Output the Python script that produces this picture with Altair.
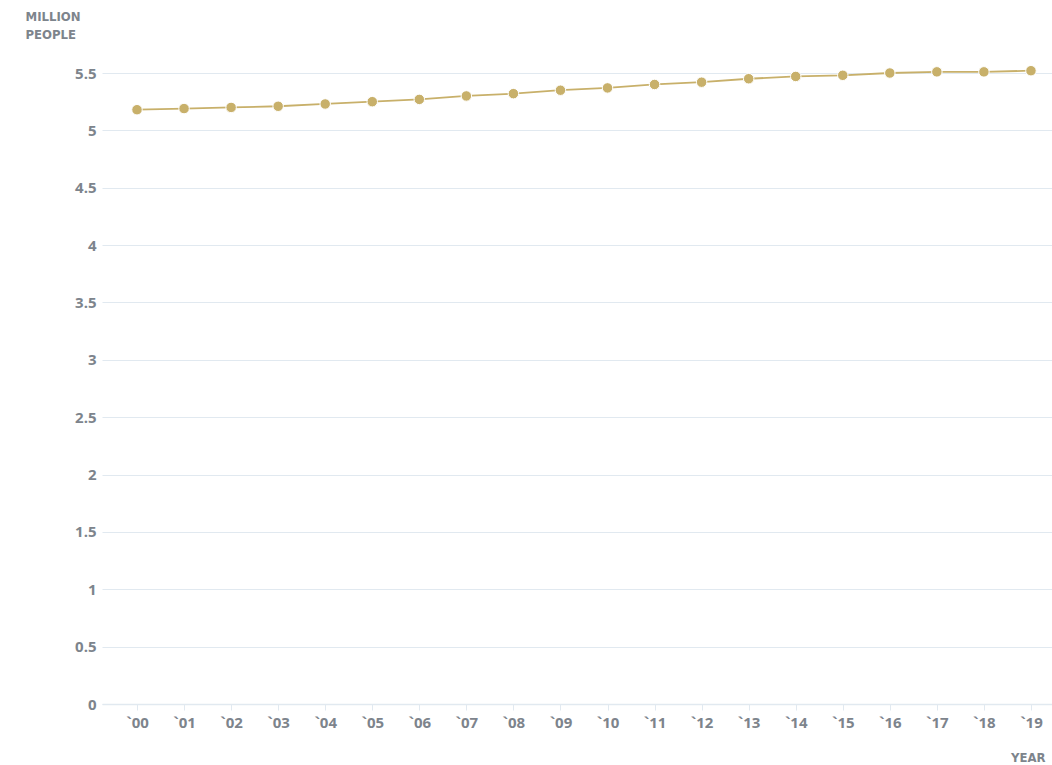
import altair as alt
import pandas as pd

years = [2000, 2001, 2002, 2003, 2004, 2005, 2006, 2007, 2008, 2009,
         2010, 2011, 2012, 2013, 2014, 2015, 2016, 2017, 2018, 2019]
population = [5.18, 5.19, 5.20, 5.21, 5.23, 5.25, 5.27, 5.30, 5.32, 5.35,
              5.37, 5.40, 5.42, 5.45, 5.47, 5.48, 5.50, 5.51, 5.51, 5.52]
y_ticks = [0, 0.5, 1, 1.5, 2, 2.5, 3, 3.5, 4, 4.5, 5, 5.5]

df = pd.DataFrame({"year": years, "pop": population})

GOLD = "#c8b06a"
GREY = "#7d848c"
GRID = "#e1e9f0"

x = alt.X("year:Q",
          scale=alt.Scale(domain=[1999.256, 2019.447], nice=False, zero=False),
          axis=alt.Axis(title="YEAR", values=years,
                        labelExpr="'`' + substring(toString(datum.value), 2)",
                        labelAngle=0, titleAngle=0, labelFlush=False, labelOverlap=False,
                        titleAlign="right", titleBaseline="bottom",
                        titleX=943, titleY=60, titleFont="DejaVu Sans Condensed",
                        titleFontSize=13, titleFontWeight="bold", titleColor=GREY,
                        labelFont="Open Sans", labelFontSize=15, labelFontWeight="bold",
                        labelColor=GREY, labelPadding=5, tickSize=6, tickColor=GRID,
                        domainColor=GRID, domainWidth=1.5, grid=False))
y = alt.Y("pop:Q", scale=alt.Scale(domain=[0, 5.5], nice=False, zero=True),
          axis=alt.Axis(title=["MILLION", "PEOPLE"], titleAngle=0, titleAlign="left",
                        titleBaseline="top", titleX=-77, titleY=-63, titleLineHeight=18,
                        titleFont="DejaVu Sans Condensed", titleFontSize=13,
                        titleFontWeight="bold", titleColor=GREY,
                        values=y_ticks,
                        labelExpr="replace(format(datum.value, '.1f'), '.0', '')",
                        labelFont="Open Sans", labelFontSize=15, labelFontWeight="bold",
                        labelColor=GREY, labelPadding=6, ticks=False, domain=False,
                        gridColor=GRID, gridWidth=1))

line = alt.Chart(df).mark_line(color=GOLD, strokeWidth=1.8, clip=False).encode(x=x, y=y)
pts = alt.Chart(df).mark_point(filled=True, color=GOLD, size=110, opacity=1,
                               stroke="white", strokeWidth=1, clip=False).encode(x=x, y=y)

chart = alt.layer(line, pts).properties(
    width=950, height=631,
    background="white",
    autosize=alt.AutoSizeParams(type="none"),
    padding={"left": 102, "top": 73, "right": 0, "bottom": 61},
).configure_view(stroke=None, strokeWidth=0)

chart.save("out.html", embed_options={"renderer": "svg", "actions": False})
